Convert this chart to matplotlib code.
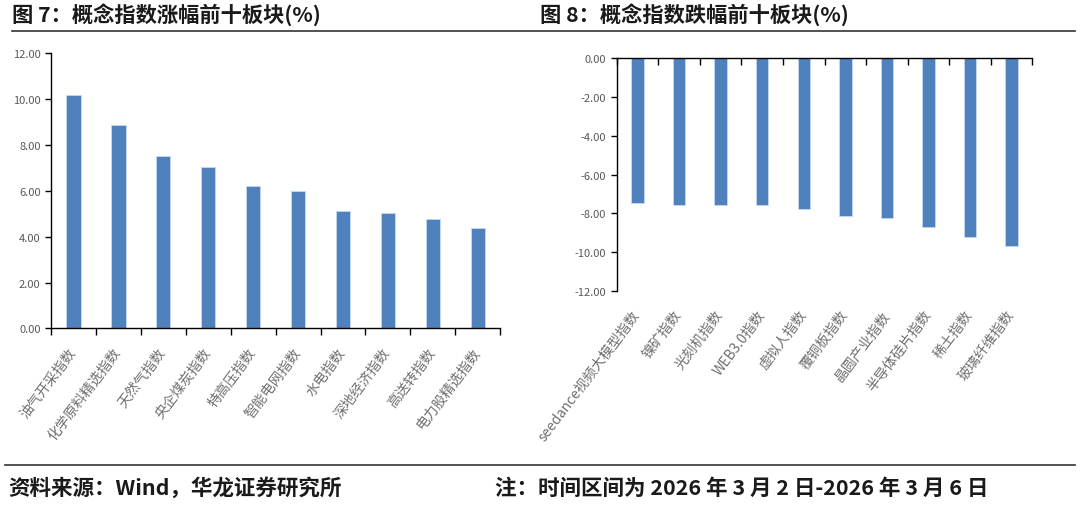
import numpy as np
import matplotlib.pyplot as plt
from matplotlib.lines import Line2D

plt.rcParams['font.family'] = ['Noto Sans CJK SC', 'DejaVu Sans']

# 涨幅前十
up_names = ["油气开采指数", "化学原料精选指数", "天然气指数", "央企煤炭指数", "特高压指数",
            "智能电网指数", "水电指数", "深地经济指数", "高送转指数", "电力股精选指数"]
up_vals = [10.17, 8.88, 7.53, 7.05, 6.22, 5.97, 5.14, 5.04, 4.79, 4.36]

# 跌幅前十
down_names = ["seedance视频大模型指数", "镍矿指数", "光刻机指数", "WEB3.0指数", "虚拟人指数",
              "覆铜板指数", "晶圆产业指数", "半导体硅片指数", "稀土指数", "玻璃纤维指数"]
down_vals = [-7.48, -7.55, -7.55, -7.59, -7.78, -8.15, -8.24, -8.70, -9.20, -9.66]

bar_color = '#4F81BD'
tick_gray = '#595959'
label_gray = '#707070'

fig = plt.figure(figsize=(10.8, 5.06), dpi=100)

# ---- left chart
ax1 = fig.add_axes([0.0472, 0.349, 0.416, 0.544])
x = np.arange(len(up_vals))
ax1.bar(x, up_vals, width=0.32, color=bar_color, edgecolor='#C6D9F1', linewidth=0.6)
ax1.set_xlim(-0.5, len(up_vals) - 0.5)
ax1.set_ylim(0, 12)
ax1.set_yticks(np.arange(0, 12.1, 2))
ax1.set_yticklabels([f"{v:.2f}" for v in np.arange(0, 12.1, 2)])
ax1.set_xticks(x)
ax1.set_xticklabels(up_names, rotation=53, ha='right', va='center',
                    rotation_mode='anchor', fontsize=10, color=label_gray)
ax1.set_xticks(np.arange(-0.5, len(up_vals)), minor=True)
ax1.tick_params(axis='x', which='major', length=0, pad=15)
ax1.tick_params(axis='x', which='minor', length=5, width=1, direction='out')
ax1.tick_params(axis='y', length=4, width=1, labelsize=8, labelcolor=tick_gray)
for s in ['top', 'right']:
    ax1.spines[s].set_visible(False)
for s in ['left', 'bottom']:
    ax1.spines[s].set_linewidth(1)

# ---- right chart
ax2 = fig.add_axes([0.571, 0.423, 0.385, 0.460])
x2 = np.arange(len(down_vals))
ax2.bar(x2, down_vals, width=0.3, color=bar_color, edgecolor='#C6D9F1', linewidth=0.6)
ax2.set_xlim(-0.5, len(down_vals) - 0.5)
ax2.set_ylim(-12, 0)
yt = np.arange(-12, 0.1, 2)
ax2.set_yticks(yt)
ax2.set_yticklabels([f"{v:.2f}" if v != 0 else "0.00" for v in yt])
ax2.set_xticks(x2)
ax2.set_xticklabels(down_names, rotation=53, ha='right', va='center',
                    rotation_mode='anchor', fontsize=10, color=label_gray)
ax2.set_xticks(np.arange(-0.5, len(down_vals)), minor=True)
ax2.tick_params(axis='x', which='major', length=0, pad=15)
ax2.tick_params(axis='x', which='minor', bottom=False, top=True, length=5, width=1,
                direction='in')
ax2.tick_params(axis='y', length=4, width=1, labelsize=8, labelcolor=tick_gray)
for s in ['bottom', 'right']:
    ax2.spines[s].set_visible(False)
for s in ['left', 'top']:
    ax2.spines[s].set_linewidth(1)

# ---- titles, rules, footer
fig.text(12 / 1080, 1 - 15 / 506, "图 7：概念指数涨幅前十板块(%)", fontsize=15.3,
         fontweight='bold', va='center', ha='left', color='#1a1a1a')
fig.text(540 / 1080, 1 - 15 / 506, "图 8：概念指数跌幅前十板块(%)", fontsize=15.3,
         fontweight='bold', va='center', ha='left', color='#1a1a1a')
fig.add_artist(Line2D([12 / 1080, 1075 / 1080], [1 - 32 / 506, 1 - 32 / 506],
                      color='#333333', linewidth=1.2))
fig.add_artist(Line2D([5 / 1080, 1075 / 1080], [1 - 466 / 506, 1 - 466 / 506],
                      color='#333333', linewidth=1.2))
fig.text(8 / 1080, 1 - 488 / 506, "资料来源：Wind，华龙证券研究所", fontsize=15.5,
         fontweight='bold', va='center', ha='left', color='#1a1a1a')
fig.text(495 / 1080, 1 - 488 / 506, "注：时间区间为 2026 年 3 月 2 日-2026 年 3 月 6 日",
         fontsize=15.5, fontweight='bold', va='center', ha='left', color='#1a1a1a')

fig.savefig('out.png', dpi=100)
